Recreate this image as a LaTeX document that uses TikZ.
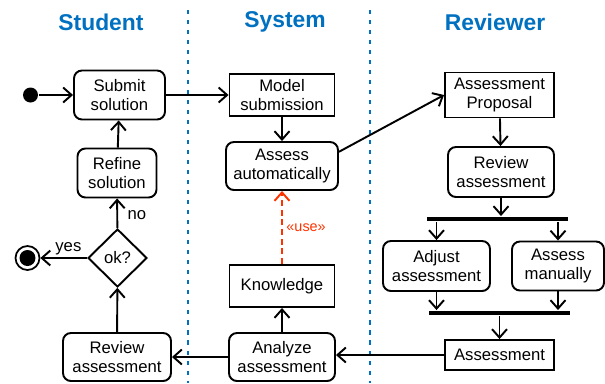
\documentclass[tikz,border=0pt]{standalone}
\usepackage{fontspec}
\setmainfont{Liberation Sans}
\usetikzlibrary{shapes.geometric,arrows.meta}
\definecolor{laneblue}{HTML}{0070C0}
\definecolor{usered}{HTML}{FF3300}
\begin{document}
\begin{tikzpicture}[
       x=0.02cm, y=-0.02cm,
       line width=1.1pt,
       >={Straight Barb[length=4.8pt,width=8.5pt]},
       lane/.style={
         font=\fontsize{13}{15}\selectfont\bfseries,
         text=laneblue
       },
       sep/.style={
         laneblue,
         line width=1.7pt,
         dash pattern=on 2.3pt off 3.4pt
       },
       act/.style={
         rectangle,
         rounded corners=4.5pt,
         draw,
         align=center,
         inner sep=0pt,
         font=\fontsize{9.5}{11}\selectfont
       },
       obj/.style={
         rectangle,
         draw,
         align=center,
         inner sep=0pt,
         font=\fontsize{9.5}{11}\selectfont
       },
       bar/.style={
         rectangle,
         fill=black,
         inner sep=0pt,
         minimum width=2.82cm,
         minimum height=0.08cm
       },
       choice/.style={
         diamond,
         draw,
         aspect=1,
         inner sep=0pt,
         minimum width=1.18cm,
         minimum height=1.16cm,
         font=\fontsize{9.5}{11}\selectfont
       }
     ]

       \useasboundingbox (0,0) rectangle (605,383);

       \node (t1) at (101,22) [lane]{Student};
       \node (t2) at (285,22) [lane]{System};
       \node (t3) at (495,22) [lane]{Reviewer};

       \draw[sep] (188,10) -- (188,383);
       \draw[sep] (370,10) -- (370,383);

       \node (start) at (30.5,95) [circle,fill=black,inner sep=0pt,minimum size=0.3cm]{};
       \node (submit) at (119.5,95) [act,minimum width=1.82cm,minimum height=0.98cm]{Submit\\solution};
       \node (refine) at (117,173) [act,minimum width=1.58cm,minimum height=0.98cm]{Refine\\solution};
       \node (ok) at (117.5,258) [choice]{ok?};
       \node (final) at (27.5,258) [circle,draw,line width=1pt,inner sep=0pt,minimum size=0.48cm]{};
       \node (finaldot) at (27.5,258) [circle,fill=black,inner sep=0pt,minimum size=0.32cm]{};
       \node (review1) at (117,357) [act,minimum width=2.16cm,minimum height=0.96cm]{Review\\assessment};

       \node (model) at (282,95) [obj,minimum width=2.1cm,minimum height=0.84cm]{Model\\submission};
       \node (auto) at (282,166) [act,minimum width=2.24cm,minimum height=0.96cm]{Assess\\automatically};
       \node (know) at (282,286) [obj,minimum width=2.1cm,minimum height=0.84cm]{Knowledge};
       \node (analyze) at (282,357) [act,minimum width=2.12cm,minimum height=0.96cm]{Analyze\\assessment};

       \node (proposal) at (499.5,95) [obj,minimum width=2.18cm,minimum height=0.9cm]{Assessment\\Proposal};
       \node (review2) at (501,172) [act,minimum width=2.12cm,minimum height=1cm]{Review\\assessment};
       \node (fork) at (497.5,219) [bar]{};
       \node (adjust) at (436.5,266) [act,minimum width=2.14cm,minimum height=1cm]{Adjust\\assessment};
       \node (manual) at (558,266) [act,minimum width=1.84cm,minimum height=0.98cm]{Assess\\manually};
       \node (join) at (499.5,313) [bar]{};
       \node (result) at (499.5,355) [obj,minimum width=2.18cm,minimum height=0.6cm]{Assessment};

       \draw[->] (start) -- (submit);
       \draw[->] (submit) -- (model);
       \draw[->] (model) -- (auto);
       \draw[->] (auto.14) -- (proposal.west);
       \draw[->] (proposal) -- (review2);
       \draw[->] (review2.south) -- (review2.south |- fork.north);
       \draw[->] (fork.south -| adjust) -- (adjust);
       \draw[->] (fork.south -| manual) -- (manual);
       \draw[->] (adjust.south) -- (adjust.south |- join.north);
       \draw[->] (manual.south) -- (manual.south |- join.north);
       \draw[->] (join.south -| result) -- (result);
       \draw[->] (result.west) -- (result.west -| analyze.east);
       \draw[->] (analyze) -- (know);
       \draw[->,usered,dash pattern=on 3.5pt off 2pt] (know) -- (auto)
         node[pos=0.5,right,inner sep=2pt,font=\fontsize{8.2}{9}\selectfont]{«use»};
       \draw[->] (analyze) -- (review1);
       \draw[->] (review1) -- (ok);
       \draw[->] (ok) -- (refine) node[pos=0.45,right=2pt,font=\fontsize{9.5}{11}\selectfont]{no};
       \draw[->] (ok) -- (final) node[pos=0.4,above=0pt,inner sep=1pt,font=\fontsize{9.5}{11}\selectfont]{yes};
       \draw[->] (refine) -- (submit);

\end{tikzpicture}
\end{document}
